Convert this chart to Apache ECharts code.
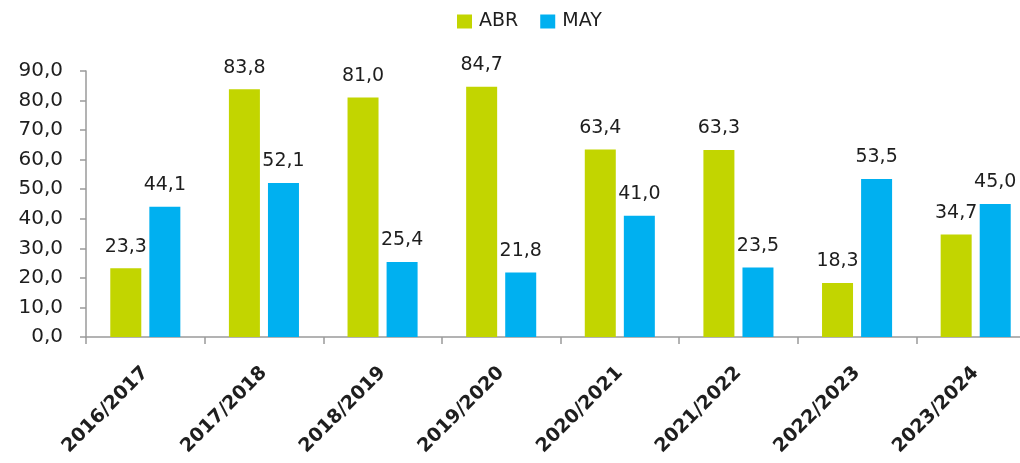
<!DOCTYPE html>
<html>
<head>
<meta charset="utf-8">
<script src="https://cdn.jsdelivr.net/npm/echarts@6/dist/echarts.min.js"></script>
<style>
  html, body { margin: 0; padding: 0; background: #ffffff; }
  #chart { width: 1020px; height: 463px; }
</style>
</head>
<body>
<div id="chart"></div>
<script>
// Seasons on the category axis
const seasons = ['2016/2017', '2017/2018', '2018/2019', '2019/2020', '2020/2021', '2021/2022', '2022/2023', '2023/2024'];
// Values for April (ABR) and May (MAY)
const abr = [23.3, 83.8, 81.0, 84.7, 63.4, 63.3, 18.3, 34.7];
const may = [44.1, 52.1, 25.4, 21.8, 41.0, 23.5, 53.5, 45.0];
// Value axis range and step
const yMin = 0;
const yMax = 90;
const yStep = 10;

const fmt = v => Number(v).toFixed(1).replace('.', ',');
const FONT = 'DejaVu Sans';
const TEXT = '#1e1e1e';
const AXIS = '#9a9a9a';

const chart = echarts.init(document.getElementById('chart'), null, { renderer: 'canvas' });

const labelStyle = {
  show: true,
  position: 'top',
  distance: 12,
  fontFamily: FONT,
  fontSize: 19,
  color: TEXT,
  formatter: p => fmt(p.value)
};

chart.setOption({
  animation: false,
  backgroundColor: '#ffffff',
  legend: {
    data: ['ABR', 'MAY'],
    left: 457,
    top: 12,
    padding: 0,
    itemWidth: 15,
    itemHeight: 14,
    itemGap: 22,
    icon: 'rect',
    textStyle: { fontFamily: FONT, fontSize: 19, color: TEXT, padding: [0, 0, 0, 2] }
  },
  grid: { left: 86, top: 71, width: 949, height: 266, outerBoundsMode: 'none', containLabel: false },
  xAxis: {
    type: 'category',
    data: seasons,
    boundaryGap: true,
    axisLine: { show: true, lineStyle: { color: AXIS, width: 1.5 } },
    axisTick: { show: true, length: 7, alignWithLabel: false, lineStyle: { color: AXIS, width: 1.5 } },
    axisLabel: {
      rotate: 45,
      margin: 33,
      interval: 0,
      fontFamily: FONT,
      fontSize: 19,
      fontWeight: 'bold',
      color: TEXT
    },
    splitLine: { show: false }
  },
  yAxis: {
    type: 'value',
    min: yMin,
    max: yMax,
    interval: yStep,
    axisLine: { show: true, lineStyle: { color: AXIS, width: 1.5 } },
    axisTick: { show: true, length: 6, inside: false, lineStyle: { color: AXIS, width: 1.5 } },
    axisLabel: {
      margin: 23,
      fontFamily: FONT,
      fontSize: 20,
      color: TEXT,
      formatter: v => fmt(v)
    },
    splitLine: { show: false }
  },
  series: [
    {
      name: 'ABR',
      type: 'bar',
      data: abr,
      barWidth: 31,
      barGap: '26%',
      itemStyle: { color: '#c2d500' },
      label: labelStyle
    },
    {
      name: 'MAY',
      type: 'bar',
      data: may,
      barWidth: 31,
      barGap: '26%',
      itemStyle: { color: '#00b0f0' },
      label: labelStyle
    }
  ]
});
</script>
</body>
</html>
